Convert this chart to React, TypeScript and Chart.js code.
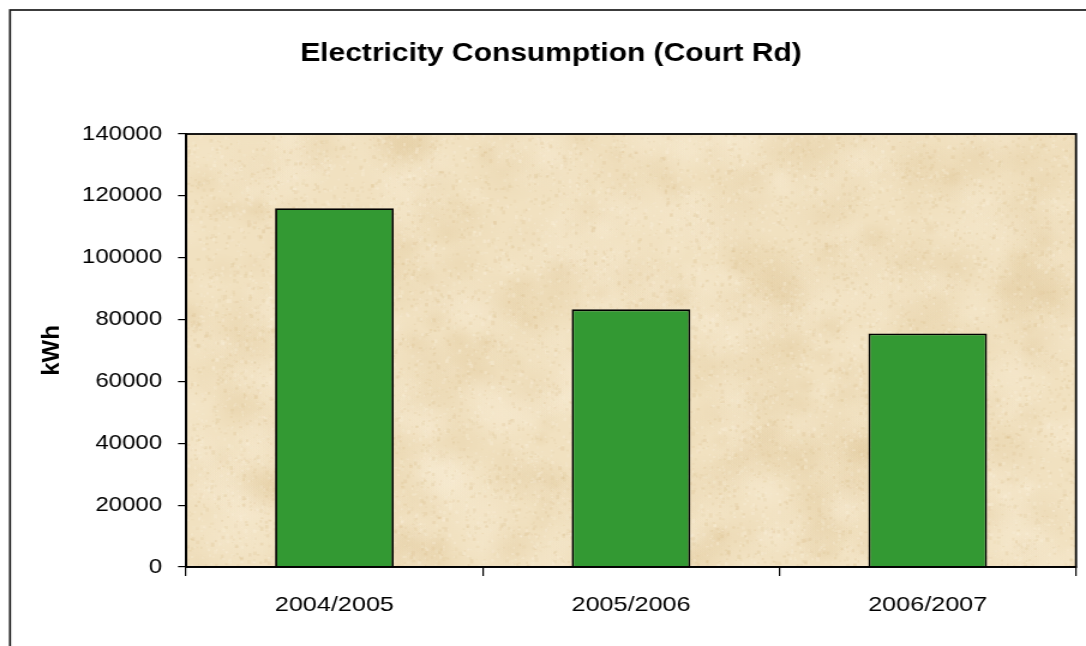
import { useEffect, useRef } from "react";
import { Chart, registerables } from "chart.js";

Chart.register(...registerables);

// Chart content
const chartTitle = "Electricity Consumption (Court Rd)";
const yAxisTitle = "kWh";
const categories = ["2004/2005", "2005/2006", "2006/2007"];
const consumption = [116000, 83300, 75500];
const yMin = 0;
const yMax = 140000;
const yStep = 20000;

// The drawing is laid out on a narrower canvas and widened with CSS,
// which gives the text its broad, horizontally stretched look.
const STRETCH = 1.2;
const VIEW_W = 1086;
const VIEW_H = 646;
const CANVAS_W = Math.round(VIEW_W / STRETCH);
const sx = (x: number) => x / STRETCH;

const FONT = "'Liberation Sans', Arial, Helvetica, sans-serif";

// Parchment-like fill for the plot area, built from a seeded generator
function makeParchment(w: number, h: number): HTMLCanvasElement {
  const c = document.createElement("canvas");
  c.width = Math.max(1, Math.ceil(w));
  c.height = Math.max(1, Math.ceil(h));
  const g = c.getContext("2d")!;
  g.fillStyle = "#F1E1C0";
  g.fillRect(0, 0, c.width, c.height);
  let s = 20070607;
  const rnd = () => {
    s = (s + 0x6d2b79f5) | 0;
    let t = Math.imul(s ^ (s >>> 15), 1 | s);
    t = (t + Math.imul(t ^ (t >>> 7), 61 | t)) ^ t;
    return ((t ^ (t >>> 14)) >>> 0) / 4294967296;
  };
  // broad mottling
  for (let i = 0; i < 700; i++) {
    const x = rnd() * c.width;
    const y = rnd() * c.height;
    const r = 8 + rnd() * 30;
    const dark = rnd() < 0.5;
    const rgb = dark ? "222,196,148" : "248,236,212";
    const a = dark ? 0.12 + rnd() * 0.14 : 0.2 + rnd() * 0.2;
    const grd = g.createRadialGradient(x, y, 0, x, y, r);
    grd.addColorStop(0, `rgba(${rgb},${a})`);
    grd.addColorStop(1, `rgba(${rgb},0)`);
    g.fillStyle = grd;
    g.beginPath();
    g.arc(x, y, r, 0, Math.PI * 2);
    g.fill();
  }
  // fine grain
  for (let i = 0; i < 14000; i++) {
    const x = rnd() * c.width;
    const y = rnd() * c.height;
    const sz = 1 + rnd() * 2;
    const dark = rnd() < 0.5;
    g.fillStyle = dark
      ? `rgba(218,190,140,${0.1 + rnd() * 0.18})`
      : `rgba(251,242,222,${0.12 + rnd() * 0.22})`;
    g.fillRect(x, y, sz, sz * (0.6 + rnd()));
  }
  return c;
}

export default function App() {
  const canvasRef = useRef<HTMLCanvasElement | null>(null);

  useEffect(() => {
    const canvas = canvasRef.current;
    if (!canvas) return;
    let texture: HTMLCanvasElement | null = null;

    const backdrop = {
      id: "backdrop",
      beforeDraw(chart: Chart) {
        const { ctx, chartArea: a } = chart;
        ctx.save();
        ctx.fillStyle = "#ffffff";
        ctx.fillRect(0, 0, chart.width, chart.height);
        const w = a.right - a.left;
        const h = a.bottom - a.top;
        if (!texture || texture.width !== Math.ceil(w) || texture.height !== Math.ceil(h)) {
          texture = makeParchment(w, h);
        }
        ctx.drawImage(texture, a.left, a.top, w, h);
        // outer chart frame
        ctx.strokeStyle = "#1a1a1a";
        ctx.lineWidth = 1.7;
        ctx.strokeRect(sx(10), 10, chart.width + 20, chart.height + 20);
        ctx.restore();
      },
      afterDraw(chart: Chart) {
        const { ctx, chartArea: a } = chart;
        ctx.save();
        ctx.strokeStyle = "#000000";
        ctx.lineWidth = 1.8;
        ctx.strokeRect(a.left, a.top, a.right - a.left, a.bottom - a.top);
        ctx.fillStyle = "#000000";
        ctx.font = `bold 25px ${FONT}`;
        ctx.textAlign = "center";
        ctx.textBaseline = "middle";
        ctx.fillText(chartTitle, sx(551), 54);
        // vertical axis title, drawn without the horizontal widening
        ctx.translate(sx(52), (a.top + a.bottom) / 2);
        ctx.scale(1 / STRETCH, 1);
        ctx.rotate(-Math.PI / 2);
        ctx.font = `bold 24px ${FONT}`;
        ctx.fillText(yAxisTitle, 0, 0);
        ctx.restore();
      },
    };

    const chart = new Chart(canvas, {
      type: "bar",
      data: {
        labels: categories,
        datasets: [
          {
            data: consumption,
            backgroundColor: "#339933",
            borderColor: "#000000",
            borderWidth: 1.8,
            barPercentage: 0.4,
            categoryPercentage: 1,
          },
        ],
      },
      options: {
        responsive: false,
        animation: false,
        devicePixelRatio: 1,
        layout: {
          padding: { top: 134, left: 0, right: CANVAS_W - sx(1076), bottom: 0 },
        },
        plugins: {
          legend: { display: false },
          title: { display: false },
          tooltip: { enabled: false },
        },
        scales: {
          x: {
            grid: {
              display: true,
              drawOnChartArea: false,
              drawTicks: true,
              tickLength: 9,
              color: "#000000",
              lineWidth: 1.2,
              offset: true,
            },
            border: { display: true, color: "#000000", width: 1.8 },
            ticks: {
              color: "#000000",
              font: { family: FONT, size: 21 },
              padding: 17,
              maxRotation: 0,
            },
            afterFit: (scale: any) => {
              scale.height = VIEW_H - 567;
            },
          },
          y: {
            min: yMin,
            max: yMax,
            grid: {
              display: true,
              drawOnChartArea: false,
              drawTicks: true,
              tickLength: sx(8),
              color: "#000000",
              lineWidth: 1.2,
            },
            border: { display: true, color: "#000000", width: 1.8 },
            ticks: {
              stepSize: yStep,
              color: "#000000",
              font: { family: FONT, size: 20 },
              padding: sx(16),
              callback: (v: any) => String(v),
            },
            afterFit: (scale: any) => {
              scale.width = sx(186);
            },
          },
        },
      },
      plugins: [backdrop],
    });

    return () => chart.destroy();
  }, []);

  return (
    <div
      style={{
        position: "absolute",
        left: 0,
        top: 0,
        width: VIEW_W,
        height: VIEW_H,
        overflow: "hidden",
        background: "#ffffff",
      }}
    >
      <canvas
        ref={canvasRef}
        width={CANVAS_W}
        height={VIEW_H}
        style={{
          display: "block",
          width: CANVAS_W,
          height: VIEW_H,
          transform: `scaleX(${VIEW_W / CANVAS_W})`,
          transformOrigin: "0 0",
        }}
      />
    </div>
  );
}
